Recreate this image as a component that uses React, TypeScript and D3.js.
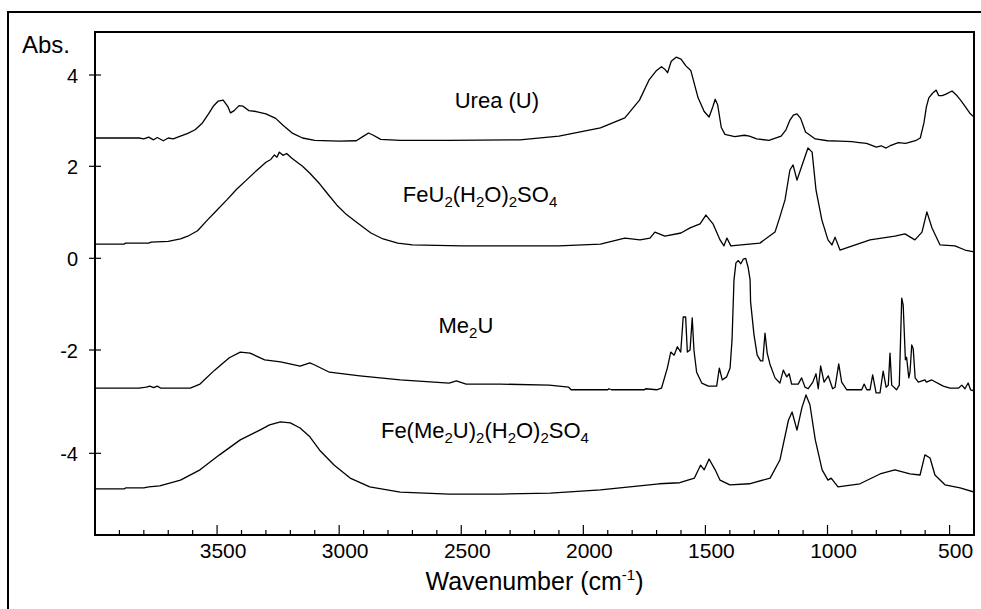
import React, { useEffect, useRef } from 'react';
import * as d3 from 'd3';

// spectra: [wavenumber (cm-1), absorbance offset]
const ureaData: [number, number][] = [
  [4000, 2.62], [3820, 2.62], [3800, 2.6], [3780, 2.64], [3760, 2.58], [3745, 2.63], [3720, 2.56],
  [3700, 2.62], [3680, 2.6], [3650, 2.66], [3620, 2.72], [3590, 2.8], [3560, 2.95], [3535, 3.15],
  [3515, 3.32], [3495, 3.43], [3475, 3.45], [3455, 3.3], [3445, 3.17], [3430, 3.22], [3410, 3.33],
  [3395, 3.32], [3370, 3.22], [3340, 3.2], [3300, 3.15], [3260, 3.05], [3230, 2.9], [3190, 2.72],
  [3150, 2.62], [3100, 2.57], [3000, 2.55], [2930, 2.56], [2900, 2.66], [2880, 2.73], [2860, 2.68],
  [2830, 2.59], [2750, 2.57], [2550, 2.57], [2260, 2.58], [2100, 2.66], [1930, 2.84], [1830, 3.06],
  [1770, 3.45], [1730, 3.9], [1700, 4.1], [1680, 4.18], [1665, 4.12], [1655, 4.05], [1640, 4.3],
  [1620, 4.39], [1600, 4.35], [1580, 4.2], [1560, 4.1], [1530, 3.5], [1505, 3.2], [1485, 3.08],
  [1470, 3.3], [1460, 3.47], [1450, 3.35], [1435, 2.85], [1420, 2.7], [1380, 2.65], [1340, 2.68],
  [1320, 2.66], [1290, 2.6], [1240, 2.57], [1190, 2.66], [1170, 2.8], [1155, 3.0], [1140, 3.12],
  [1125, 3.15], [1110, 3.05], [1090, 2.75], [1050, 2.6], [1000, 2.56], [950, 2.55], [900, 2.54],
  [870, 2.52], [840, 2.5], [800, 2.42], [780, 2.45], [760, 2.4], [740, 2.46], [710, 2.52],
  [680, 2.5], [640, 2.56], [620, 2.62], [605, 2.95], [595, 3.3], [585, 3.5], [570, 3.6], [555, 3.67],
  [545, 3.55], [530, 3.55], [515, 3.58], [490, 3.65], [470, 3.55], [455, 3.45], [435, 3.3],
  [415, 3.15], [400, 3.08],
];

const feUData: [number, number][] = [
  [4000, 0.31], [3880, 0.31], [3875, 0.33], [3780, 0.33], [3770, 0.35], [3700, 0.37], [3650, 0.42],
  [3620, 0.48], [3580, 0.6], [3540, 0.83], [3500, 1.05], [3460, 1.27], [3420, 1.5], [3380, 1.7],
  [3340, 1.9], [3300, 2.09], [3280, 2.15], [3265, 2.25], [3255, 2.2], [3245, 2.31], [3230, 2.24],
  [3215, 2.28], [3195, 2.18], [3180, 2.12], [3150, 2.0], [3120, 1.85], [3080, 1.62], [3050, 1.42],
  [3010, 1.16], [2970, 0.95], [2930, 0.79], [2870, 0.55], [2820, 0.42], [2760, 0.33], [2700, 0.29],
  [2500, 0.27], [2100, 0.27], [1930, 0.31], [1830, 0.44], [1768, 0.4], [1727, 0.44], [1707, 0.57],
  [1666, 0.48], [1600, 0.55], [1563, 0.66], [1522, 0.75], [1498, 0.94], [1469, 0.75], [1440, 0.4],
  [1424, 0.27], [1412, 0.44], [1396, 0.27], [1277, 0.33], [1215, 0.57], [1195, 0.9], [1174, 1.27],
  [1154, 1.92], [1141, 2.03], [1125, 1.7], [1100, 2.09], [1080, 2.4], [1063, 2.31], [1047, 1.48],
  [1023, 0.83], [998, 0.4], [982, 0.29], [969, 0.46], [949, 0.18], [826, 0.4], [724, 0.48],
  [683, 0.53], [642, 0.4], [613, 0.57], [593, 1.01], [572, 0.66], [539, 0.29], [478, 0.27],
  [437, 0.18], [400, 0.14],
];

const me2uData: [number, number][] = [
  [4000, -2.74], [3820, -2.74], [3790, -2.72], [3775, -2.7], [3760, -2.73], [3745, -2.7], [3730, -2.74],
  [3610, -2.74], [3570, -2.66], [3510, -2.39], [3450, -2.15], [3405, -2.04], [3365, -2.06],
  [3305, -2.19], [3240, -2.23], [3160, -2.31], [3120, -2.25], [3100, -2.29], [3040, -2.43],
  [2915, -2.5], [2750, -2.58], [2550, -2.64], [2520, -2.6], [2480, -2.66], [2340, -2.66],
  [2140, -2.68], [2060, -2.72], [2050, -2.77], [1900, -2.77], [1895, -2.75], [1885, -2.77],
  [1750, -2.77], [1745, -2.75], [1700, -2.77], [1680, -2.74], [1656, -2.35], [1642, -2.04],
  [1628, -2.1], [1615, -1.93], [1601, -2.04], [1591, -1.28], [1581, -1.28], [1574, -2.04],
  [1563, -2.0], [1554, -1.3], [1547, -2.0], [1536, -2.43], [1515, -2.64], [1488, -2.7], [1454, -2.7],
  [1443, -2.35], [1431, -2.58], [1413, -2.52], [1399, -2.35], [1391, -1.78], [1383, -0.47],
  [1375, -0.1], [1365, -0.05], [1355, -0.12], [1345, -0.02], [1335, 0.0], [1325, -0.2],
  [1317, -0.47], [1315, -0.95], [1301, -1.67], [1288, -2.1], [1274, -2.21], [1265, -2.21],
  [1256, -1.63], [1247, -2.06], [1236, -2.27], [1215, -2.54], [1195, -2.64], [1181, -2.39],
  [1167, -2.52], [1157, -2.46], [1147, -2.66], [1120, -2.66], [1106, -2.54], [1092, -2.72],
  [1079, -2.75], [1060, -2.62], [1047, -2.46], [1038, -2.75], [1028, -2.31], [1014, -2.62],
  [997, -2.5], [979, -2.75], [969, -2.72], [954, -2.27], [942, -2.62], [921, -2.77], [860, -2.77],
  [850, -2.66], [839, -2.77], [826, -2.77], [815, -2.48], [801, -2.83], [785, -2.83], [772, -2.41],
  [760, -2.72], [751, -2.68], [744, -2.06], [737, -2.68], [717, -2.77], [706, -2.68], [696, -0.87],
  [690, -1.02], [681, -2.19], [676, -2.14], [667, -2.54], [662, -2.43], [655, -1.89], [649, -1.97],
  [641, -2.54], [628, -2.62], [601, -2.58], [595, -2.62], [573, -2.58], [526, -2.7], [498, -2.74],
  [464, -2.74], [450, -2.68], [437, -2.75], [424, -2.64], [414, -2.77], [400, -2.79],
];

const feMe2uData: [number, number][] = [
  [4000, -4.69], [3880, -4.69], [3875, -4.67], [3800, -4.67], [3780, -4.65], [3735, -4.63],
  [3650, -4.52], [3570, -4.32], [3490, -4.03], [3405, -3.74], [3325, -3.55], [3285, -3.45],
  [3240, -3.39], [3200, -3.41], [3160, -3.51], [3120, -3.68], [3080, -3.94], [3020, -4.23],
  [2955, -4.48], [2875, -4.65], [2750, -4.75], [2550, -4.79], [2340, -4.79], [2135, -4.77],
  [1930, -4.71], [1810, -4.65], [1690, -4.59], [1605, -4.57], [1545, -4.48], [1520, -4.23],
  [1505, -4.32], [1485, -4.11], [1460, -4.32], [1440, -4.52], [1400, -4.61], [1320, -4.59],
  [1235, -4.48], [1195, -4.13], [1160, -3.36], [1145, -3.2], [1125, -3.55], [1105, -3.12],
  [1088, -2.87], [1072, -3.06], [1050, -3.74], [1022, -4.32], [998, -4.52], [985, -4.48],
  [957, -4.65], [867, -4.59], [785, -4.4], [724, -4.32], [662, -4.4], [621, -4.42], [601, -4.03],
  [580, -4.09], [560, -4.42], [519, -4.61], [457, -4.67], [400, -4.75],
];

const xMajorTicks = [3500, 3000, 2500, 2000, 1500, 1000, 500];
const yTicks = [4, 2, 0, -2, -4];

// label text pieces: [text, subscript?], anchored at (wavenumber, absorbance)
const curveLabels: { parts: [string, boolean][]; w: number; v: number }[] = [
  { parts: [['Urea (U)', false]], w: 2354, v: 3.28 },
  { parts: [['FeU', false], ['2', true], ['(H', false], ['2', true], ['O)', false], ['2', true], ['SO', false], ['4', true]], w: 2423, v: 1.22 },
  { parts: [['Me', false], ['2', true], ['U', false]], w: 2481, v: -1.63 },
  { parts: [['Fe(Me', false], ['2', true], ['U)', false], ['2', true], ['(H', false], ['2', true], ['O)', false], ['2', true], ['SO', false], ['4', true]], w: 2403, v: -3.7 },
];

const W = 981;
const H = 609;
const box = { left: 95, right: 974, top: 32, bottom: 535 };
const font = '"Liberation Sans", Arial, Helvetica, sans-serif';

export default function App() {
  const ref = useRef<SVGSVGElement>(null);

  useEffect(() => {
    const svg = d3.select(ref.current);
    svg.selectAll('*').remove();

    const x = d3.scaleLinear().domain([4000, 400]).range([box.left, box.right]);
    // the original axis is not quite even, so the scale follows its tick marks
    const y = d3.scaleLinear().domain(yTicks).range([75, 166.3, 258.3, 350, 453.3]);

    // outer frame
    svg.append('rect')
      .attr('x', 8).attr('y', 12).attr('width', 1000).attr('height', 700)
      .attr('fill', 'none').attr('stroke', '#000').attr('stroke-width', 2);

    svg.append('clipPath').attr('id', 'plot-clip')
      .append('rect')
      .attr('x', box.left).attr('y', box.top)
      .attr('width', box.right - box.left).attr('height', box.bottom - box.top);

    const line = d3.line<[number, number]>()
      .x((d) => x(d[0]))
      .y((d) => y(d[1]));

    const traces = svg.append('g').attr('clip-path', 'url(#plot-clip)');
    [ureaData, feUData, me2uData, feMe2uData].forEach((data) => {
      traces.append('path')
        .attr('d', line(data))
        .attr('fill', 'none')
        .attr('stroke', '#000')
        .attr('stroke-width', 1.3)
        .attr('stroke-linejoin', 'round');
    });

    // plot box
    svg.append('rect')
      .attr('x', box.left).attr('y', box.top)
      .attr('width', box.right - box.left).attr('height', box.bottom - box.top)
      .attr('fill', 'none').attr('stroke', '#000').attr('stroke-width', 2);

    // x ticks (inside)
    const minor = d3.range(3900, 400, -100).filter((v) => v % 500 !== 0);
    svg.append('g').selectAll('line.minor').data(minor).enter().append('line')
      .attr('x1', (d) => x(d)).attr('x2', (d) => x(d))
      .attr('y1', box.bottom).attr('y2', box.bottom - 5)
      .attr('stroke', '#000').attr('stroke-width', 1.2);
    svg.append('g').selectAll('line.major').data(xMajorTicks).enter().append('line')
      .attr('x1', (d) => x(d)).attr('x2', (d) => x(d))
      .attr('y1', box.bottom).attr('y2', box.bottom - 10)
      .attr('stroke', '#000').attr('stroke-width', 1.2);
    svg.append('g').selectAll('text').data(xMajorTicks).enter().append('text')
      .attr('x', (d) => x(d) + 6).attr('y', 557.5)
      .attr('text-anchor', 'middle')
      .attr('font-family', font).attr('font-size', 21)
      .text((d) => d);

    // y ticks (crossing)
    svg.append('g').selectAll('line').data(yTicks).enter().append('line')
      .attr('x1', box.left - 6).attr('x2', box.left + 6)
      .attr('y1', (d) => y(d)).attr('y2', (d) => y(d))
      .attr('stroke', '#000').attr('stroke-width', 1.2);
    svg.append('g').selectAll('text').data(yTicks).enter().append('text')
      .attr('x', 78).attr('y', (d) => y(d) + 8)
      .attr('text-anchor', 'end')
      .attr('font-family', font).attr('font-size', 20)
      .text((d) => d);

    svg.append('text')
      .attr('x', 22).attr('y', 53)
      .attr('font-family', font).attr('font-size', 24)
      .text('Abs.');

    // axis title
    const title = svg.append('text')
      .attr('x', (box.left + box.right) / 2).attr('y', 590)
      .attr('text-anchor', 'middle')
      .attr('font-family', font).attr('font-size', 25);
    title.append('tspan').text('Wavenumber (cm');
    title.append('tspan').attr('font-size', 15).attr('dy', -10).text('-1');
    title.append('tspan').attr('dy', 10).text(')');

    // curve labels with subscripts
    curveLabels.forEach((lab) => {
      const t = svg.append('text')
        .attr('x', x(lab.w)).attr('y', y(lab.v))
        .attr('text-anchor', 'middle')
        .attr('font-family', font).attr('font-size', 22);
      let shifted = false;
      lab.parts.forEach(([str, sub]) => {
        const ts = t.append('tspan').text(str);
        if (sub) {
          ts.attr('font-size', 15);
          if (!shifted) ts.attr('dy', 5);
          shifted = true;
        } else if (shifted) {
          ts.attr('dy', -5);
          shifted = false;
        }
      });
    });
  }, []);

  return (
    <svg
      ref={ref}
      width={W}
      height={H}
      style={{ position: 'absolute', left: 0, top: 0, background: '#fff' }}
    />
  );
}
